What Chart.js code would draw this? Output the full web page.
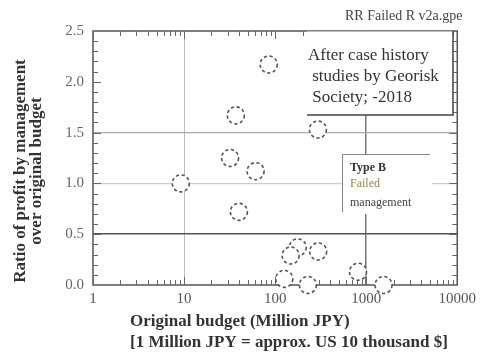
<!DOCTYPE html>
<html>
<head>
<meta charset="utf-8">
<script src="https://cdn.jsdelivr.net/npm/chart.js@4/dist/chart.umd.min.js"></script>
<style>
  html, body { margin: 0; padding: 0; background: #fff; }
  #wrap { width: 481px; height: 353px; position: relative; }
</style>
</head>
<body>
<div id="wrap"><canvas id="c" width="481" height="353"></canvas></div>
<script>
// Case histories: original budget (million JPY) vs profit ratio
const budgets = [85, 37, 295, 32, 61, 9.2, 40, 177, 148, 297, 813, 126, 229, 1550];
const ratios  = [2.17, 1.67, 1.53, 1.25, 1.12, 1.0, 0.72, 0.37, 0.29, 0.33, 0.13, 0.06, 0.0, 0.0];

const xTickValues = [1, 10, 100, 1000, 10000];
const yTickValues = [0, 0.5, 1.0, 1.5, 2.0, 2.5];

const yTitleLines = ['Ratio of profit by management', 'over original budget'];
const xTitleLines = ['Original budget (Million JPY)', '[1 Million JPY = approx. US 10 thousand $]'];
const noteLines = ['After case history', ' studies by Georisk', ' Society; -2018'];
const typeLines = ['Type B', 'Failed', 'management'];
const fileTag = 'RR Failed R v2a.gpe';

const SERIF = "'Liberation Serif', 'Times New Roman', serif";

const points = budgets.map((b, i) => ({ x: b, y: ratios[i] }));

// dashed outline for the markers
const dashedMarkers = {
  id: 'dashedMarkers',
  beforeDatasetDraw(chart) {
    chart.ctx.save();
    chart.ctx.setLineDash([3.2, 2.6]);
  },
  afterDatasetDraw(chart) {
    chart.ctx.restore();
  }
};

// frame, inward minor ticks and titles
const decorations = {
  id: 'decorations',
  beforeDatasetsDraw(chart) {
    const { ctx, chartArea: a, scales: { x, y } } = chart;
    ctx.save();
    // frame
    ctx.strokeStyle = '#555';
    ctx.lineWidth = 1.5;
    ctx.strokeRect(a.left, a.top, a.right - a.left, a.bottom - a.top);
    // x ticks (log decades with minors)
    ctx.strokeStyle = '#666';
    ctx.lineWidth = 1;
    for (let d = 1; d < 10000; d *= 10) {
      for (let m = 1; m <= 9; m++) {
        const v = d * m;
        const px = Math.round(x.getPixelForValue(v)) + 0.5;
        const len = m === 1 ? 8 : 5;
        ctx.beginPath();
        ctx.moveTo(px, a.bottom); ctx.lineTo(px, a.bottom - len);
        ctx.moveTo(px, a.top); ctx.lineTo(px, a.top + len);
        ctx.stroke();
      }
    }
    // y ticks every 0.1
    for (let k = 1; k < 25; k++) {
      const v = k / 10;
      const py = Math.round(y.getPixelForValue(v)) + 0.5;
      const len = k % 5 === 0 ? 8 : 5;
      ctx.beginPath();
      ctx.moveTo(a.left, py); ctx.lineTo(a.left + len, py);
      ctx.moveTo(a.right, py); ctx.lineTo(a.right - len, py);
      ctx.stroke();
    }
    ctx.restore();
  },
  afterDraw(chart) {
    const { ctx } = chart;
    ctx.save();
    ctx.textBaseline = 'middle';

    // axis titles
    ctx.fillStyle = '#333';
    ctx.font = 'bold 17px ' + SERIF;
    ctx.textAlign = 'left';
    ctx.fillText(xTitleLines[0], 130, 322);
    ctx.fillText(xTitleLines[1], 130, 343);

    ctx.save();
    ctx.translate(21, 171);
    ctx.rotate(-Math.PI / 2);
    ctx.textAlign = 'center';
    ctx.fillText(yTitleLines[0], 0, 0);
    ctx.fillText(yTitleLines[1], 0, 16);
    ctx.restore();

    // file tag
    ctx.fillStyle = '#444';
    ctx.font = '14px ' + SERIF;
    ctx.textAlign = 'left';
    ctx.fillText(fileTag, 345, 16);

    // source note box
    ctx.fillStyle = '#fff';
    ctx.fillRect(307, 31.5, 146, 83.5);
    ctx.strokeStyle = '#444';
    ctx.lineWidth = 1.5;
    ctx.beginPath();
    ctx.moveTo(307, 115); ctx.lineTo(453, 115); ctx.lineTo(453, 31);
    ctx.stroke();
    ctx.fillStyle = '#333';
    ctx.font = '17px ' + SERIF;
    ctx.fillText(noteLines[0], 308, 56);
    ctx.fillText(noteLines[1], 308, 77);
    ctx.fillText(noteLines[2], 308, 98);

    // type label box
    ctx.fillStyle = '#fff';
    ctx.fillRect(342, 154, 90, 60);
    ctx.strokeStyle = '#888';
    ctx.lineWidth = 1;
    ctx.beginPath();
    ctx.moveTo(430, 154.5); ctx.lineTo(342.5, 154.5); ctx.lineTo(342.5, 212);
    ctx.stroke();
    ctx.font = 'bold 12px ' + SERIF;
    ctx.fillStyle = '#333';
    ctx.fillText(typeLines[0], 350, 168);
    ctx.font = '12px ' + SERIF;
    ctx.fillStyle = '#9a8646';
    ctx.fillText(typeLines[1], 350, 184);
    ctx.fillStyle = '#444';
    ctx.fillText(typeLines[2], 350, 203);

    ctx.restore();
  }
};

new Chart(document.getElementById('c'), {
  type: 'scatter',
  data: {
    datasets: [{
      data: points,
      clip: false,
      pointRadius: 8.5,
      pointHoverRadius: 8.5,
      pointBorderWidth: 1.6,
      pointBorderColor: '#555',
      pointBackgroundColor: '#fff'
    }]
  },
  options: {
    responsive: false,
    animation: false,
    events: [],
    layout: { padding: { left: 0, top: 31, right: 22, bottom: 0 } },
    plugins: { legend: { display: false }, tooltip: { enabled: false } },
    scales: {
      x: {
        type: 'logarithmic',
        min: 1,
        max: 10000,
        afterBuildTicks(scale) { scale.ticks = xTickValues.map(v => ({ value: v })); },
        afterFit(scale) { scale.height = 68; },
        border: { display: false },
        grid: {
          drawTicks: false,
          lineWidth: ctx => (ctx.tick && ctx.tick.value === 1000 ? 1.5 : 1),
          color: ctx => {
            const v = ctx.tick && ctx.tick.value;
            if (v === 10) return '#bbb';
            if (v === 1000) return '#777';
            return 'rgba(0,0,0,0)';
          }
        },
        ticks: {
          padding: 5,
          maxRotation: 0,
          autoSkip: false,
          color: '#555',
          font: { family: SERIF, size: 15 },
          callback: v => String(v)
        }
      },
      y: {
        min: 0,
        max: 2.5,
        afterBuildTicks(scale) { scale.ticks = yTickValues.map(v => ({ value: v })); },
        afterFit(scale) { scale.width = 93; },
        border: { display: false },
        grid: {
          drawTicks: false,
          lineWidth: ctx => (ctx.tick && ctx.tick.value === 0.5 ? 1.6 : 1.2),
          color: ctx => {
            const v = ctx.tick && ctx.tick.value;
            if (v === 0.5) return '#555';
            if (v === 1.0) return '#ccc';
            if (v === 1.5) return '#aaa';
            return 'rgba(0,0,0,0)';
          }
        },
        ticks: {
          padding: 9,
          color: '#666',
          font: { family: SERIF, size: 15 },
          callback: v => Number(v).toFixed(1)
        }
      }
    }
  },
  plugins: [decorations, dashedMarkers]
});
</script>
</body>
</html>
